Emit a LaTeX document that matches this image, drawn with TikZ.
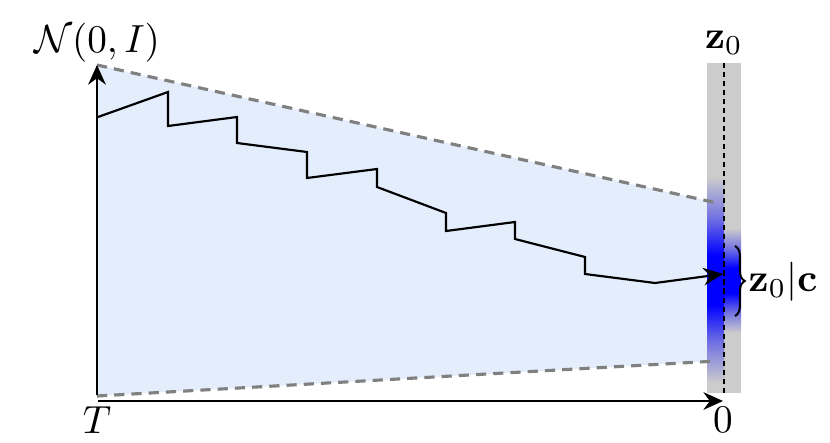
\documentclass[tikz,border=0pt]{standalone}
\usepackage{amsmath}
\usetikzlibrary{
  arrows.meta,
  calc,
  decorations.pathreplacing,
  positioning,
}
\definecolor{noisefill}{HTML}{E3EDFB}
\definecolor{bandgray}{HTML}{CCCCCC}
\definecolor{boundgray}{HTML}{808080}
\pgfdeclareverticalshading{density}{100bp}{
  color(0bp)=(bandgray); color(25bp)=(bandgray); color(35bp)=(blue!45!bandgray);
  color(44bp)=(blue); color(56bp)=(blue); color(65bp)=(blue!45!bandgray);
  color(75bp)=(bandgray); color(100bp)=(bandgray)}
\tikzset{
  >={Stealth[length=5pt,width=4.5pt]},
  axis/.style={line width=0.55pt},
  bound/.style={boundgray, line width=0.8pt, dash pattern=on 2.6pt off 1.8pt},
  walk/.style={line width=0.55pt, line join=miter},
  center line/.style={line width=0.65pt, dash pattern=on 1.3pt off 1pt},
}

\begin{document}
\begin{tikzpicture}[x=0.255pt,y=-0.255pt]
      \useasboundingbox (0,0) rectangle (830,442);
      % corners of the noisy region
      \coordinate (noise top) at (97,65);
      \coordinate (noise bottom) at (97,396);
      \coordinate (data top) at (717,203);
      \coordinate (data bottom) at (717,361);
      \fill[noisefill] (noise top) -- (707,200.8) -- (707,361.6) -- (noise bottom) -- cycle;
      % data band
      \fill[bandgray] (707,63) rectangle (741,393);
      \shade[shading=density] (707,177) rectangle (724,383);
      \shade[shading=density] (724,228) rectangle (741,333);
      \draw[bound] (noise top) -- (data top);
      \draw[bound] (noise bottom) -- (data bottom);
      \draw[center line] (724,63) -- (724,393);
      % sampling path
      \coordinate (start) at (98,117);
      \coordinate (hit) at (723,274);
      \draw[walk,->] (start) -- (168,92) -- (168,126) -- (237,117) -- (237,143)
        -- (307,152) -- (307,178) -- (377,169) -- (377,187) -- (446,213)
        -- (446,231) -- (515,222) -- (515,239) -- (585,257) -- (585,274)
        -- (655,283) -- (hit);
      % axes
      \coordinate (vaxis) at (97,395);
      \coordinate (haxis) at (98,401);
      \coordinate (haxis end) at (723,401);
      \draw[axis,->] (vaxis) -- (noise top);
      \draw[axis,->] (haxis) -- (haxis end);
      \node (prior) at (97,43) {$\mathcal{N}(0, I)$};
      \node (data) at (724,43) {$\mathbf{z}_0$};
      \node (T) at (97,420) {$T$};
      \node (zero) at (723,420) {$0$};
      % conditional
      \coordinate (brace top) at (735,246);
      \coordinate (brace bottom) at (735,316);
      \draw[line width=0.5pt, decorate, decoration={brace, amplitude=2.5pt}]
        (brace top) -- (brace bottom);
      \node[anchor=west, inner sep=1pt] (cond) at (744,282) {$\mathbf{z}_0|\mathbf{c}$};
    \end{tikzpicture}
\end{document}
